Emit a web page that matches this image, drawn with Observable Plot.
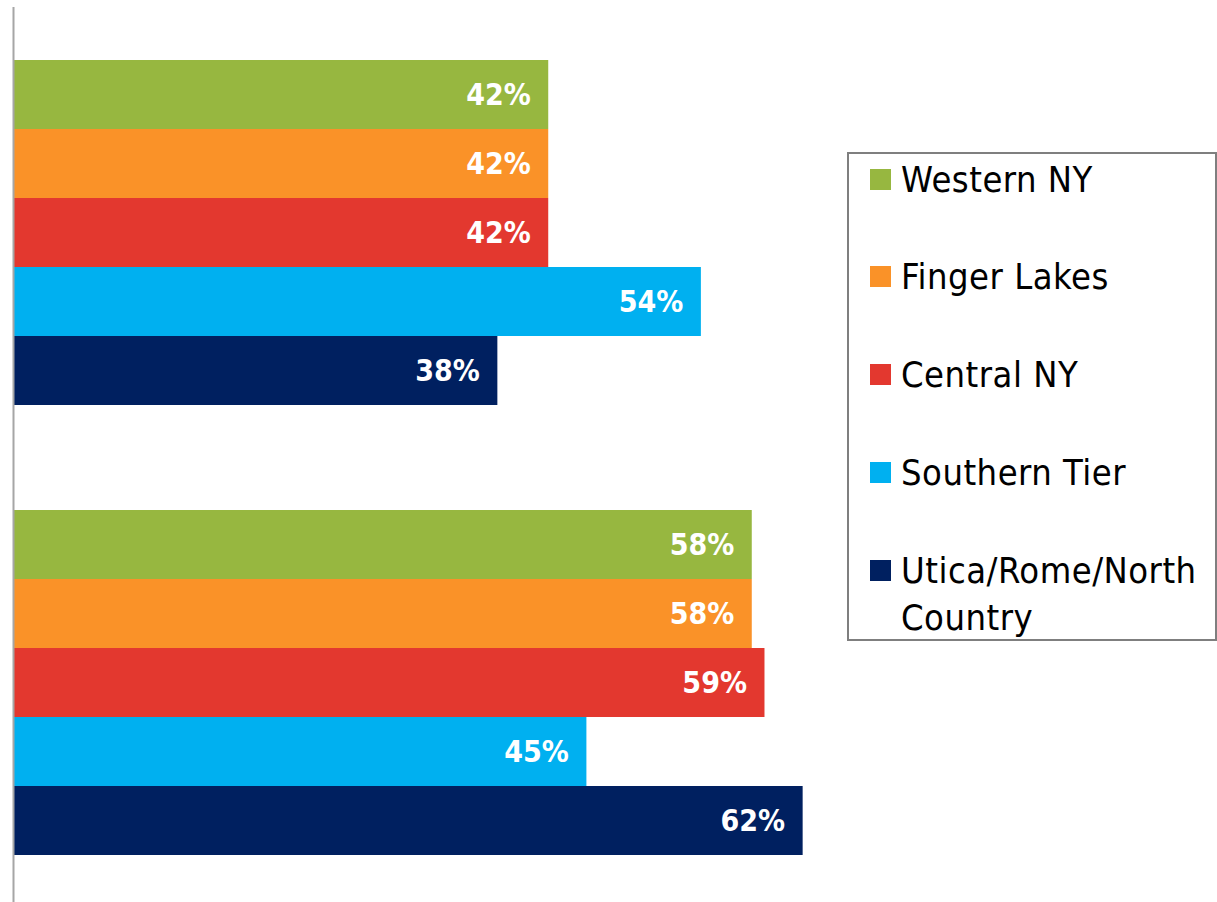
<!DOCTYPE html>
<html>
<head>
<meta charset="utf-8">
<script src="https://cdn.jsdelivr.net/npm/d3@7"></script>
<script src="https://cdn.jsdelivr.net/npm/@observablehq/plot@0.6"></script>
<style>
  html, body { margin: 0; padding: 0; background: #fff; }
  #wrap { position: relative; width: 1217px; height: 902px; overflow: hidden; }
  #legend { position: absolute; left: 847px; top: 152px; width: 366px; height: 485px;
            border: 2px solid #7f7f7f; box-sizing: content-box; background: #fff; }
  .entry { position: absolute; left: 870px; display: flex; align-items: flex-start;
           font-family: "DejaVu Sans Condensed", "DejaVu Sans", sans-serif; font-stretch: condensed;
           font-size: 36px; letter-spacing: 0.5px; line-height: 47px; color: #000; }
  .sw { width: 21px; height: 21px; margin-top: 13px; margin-right: 10px; flex: none; }
  .lbl { width: 310px; }
</style>
</head>
<body>
<div id="wrap"></div>
<script>
const groups = ["Group 1", "Group 2"];
const series = ["Western NY", "Finger Lakes", "Central NY", "Southern Tier", "Utica/Rome/North Country"];
const group1Values = [42, 42, 42, 54, 38];
const group2Values = [58, 58, 59, 45, 62];
const colors = ["#97B740", "#FA9228", "#E3382F", "#00B0F0", "#002060"];

const data = [];
series.forEach((s, i) => {
  data.push({group: groups[0], series: s, value: group1Values[i]});
  data.push({group: groups[1], series: s, value: group2Values[i]});
});

const font = '"DejaVu Sans Condensed", "DejaVu Sans", sans-serif';

const chart = Plot.plot({
  width: 1217,
  height: 902,
  marginTop: 59,
  marginBottom: 47,
  marginLeft: 14,
  marginRight: 312.6,
  style: {fontFamily: font, background: "transparent"},
  x: {domain: [0, 70], axis: null},
  y: {domain: series, padding: 0, axis: null},
  fy: {domain: groups, paddingInner: 104 / 450, paddingOuter: 0, axis: null},
  color: {domain: series, range: colors},
  marks: [
    Plot.barX(data, {x: "value", y: "series", fy: "group", fill: "series"}),
    Plot.text(data, {
      x: "value", y: "series", fy: "group",
      text: d => d.value + "%",
      textAnchor: "end", dx: -18,
      fill: "white", fontWeight: "bold", fontSize: 30
    }),
    Plot.ruleX([0], {stroke: "#a6a6a6", strokeWidth: 2, dx: -1, insetTop: -52, insetBottom: -52})
  ]
});

const wrap = document.getElementById("wrap");
wrap.appendChild(chart);

const legend = document.createElement("div");
legend.id = "legend";
wrap.appendChild(legend);

series.forEach((s, i) => {
  const e = document.createElement("div");
  e.className = "entry";
  e.style.top = (179 + 97.8 * i - 23.5) + "px";
  const sw = document.createElement("div");
  sw.className = "sw";
  sw.style.background = colors[i];
  const lb = document.createElement("div");
  lb.className = "lbl";
  lb.textContent = s;
  e.appendChild(sw);
  e.appendChild(lb);
  wrap.appendChild(e);
});
</script>
</body>
</html>
